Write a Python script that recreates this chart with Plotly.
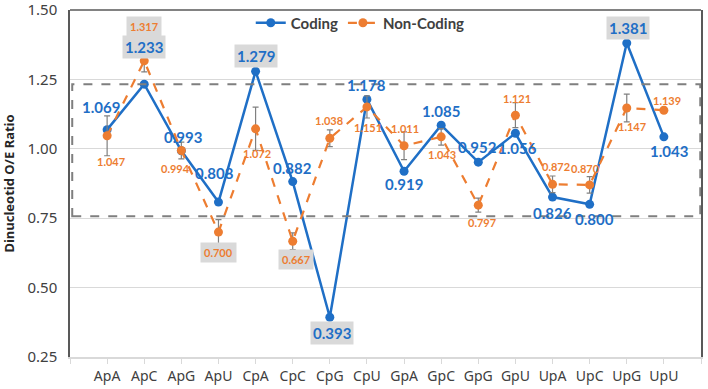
import plotly.graph_objects as go

categories = ["ApA", "ApC", "ApG", "ApU", "CpA", "CpC", "CpG", "CpU",
              "GpA", "GpC", "GpG", "GpU", "UpA", "UpC", "UpG", "UpU"]
coding = [1.069, 1.233, 0.993, 0.808, 1.279, 0.882, 0.393, 1.178,
          0.919, 1.085, 0.952, 1.056, 0.826, 0.800, 1.381, 1.043]
noncoding = [1.047, 1.317, 0.994, 0.700, 1.072, 0.667, 1.038, 1.151,
             1.011, 1.043, 0.797, 1.121, 0.872, 0.870, 1.147, 1.139]
noncoding_err = [0.072, 0.04, 0.03, 0.045, 0.078, 0.03, 0.03, 0.04,
                 0.05, 0.03, 0.025, 0.045, 0.03, 0.03, 0.05, 0.0]
y_ticks = [0.25, 0.50, 0.75, 1.00, 1.25, 1.50]

# label styling: (dx, dy in px, highlighted box)
coding_lab = [(-6, -23, False), (0, -37, True), (2, -14, False), (-4, -29, False),
              (0, -15, True), (0, -14, False), (2, 16, True), (0, -14, False),
              (0, 13, False), (0, -14, False), (-1, -15, False), (2, 15, False),
              (0, 16, False), (5, 15, False), (1, -15, True), (5, 14, False)]
noncoding_lab = [(4, 26, False), (0, -34, True), (-6, 18, False), (0, 20, True),
                 (1, 25, False), (3, 18, True), (-1, -18, False), (1, 21, False),
                 (1, -17, False), (1, 18, False), (4, 17, False), (2, -17, False),
                 (3, -18, False), (-4, -16, False), (5, 18, False), (3, -10, False)]

BLUE = "#1f6fc6"
ORANGE = "#ed7d31"
xs = list(range(len(categories)))

fig = go.Figure()
fig.add_trace(go.Scatter(
    x=xs, y=coding, name="Coding", mode="lines+markers",
    line=dict(color=BLUE, width=2.5),
    marker=dict(color=BLUE, size=9)))
fig.add_trace(go.Scatter(
    x=xs, y=noncoding, name="Non-Coding", mode="lines+markers",
    line=dict(color=ORANGE, width=2.2, dash="dash"),
    marker=dict(color=ORANGE, size=9),
    error_y=dict(type="data", array=noncoding_err, color="#808080",
                 thickness=1.2, width=3)))

annotations = []
for i, v in enumerate(coding):
    dx, dy, box = coding_lab[i]
    annotations.append(dict(
        x=xs[i], y=v, xref="x", yref="y", text=f"{v:.3f}", showarrow=False,
        xshift=dx, yshift=-dy,
        font=dict(family="Lato, Noto Sans, sans-serif", size=15, color=BLUE, weight="bold"),
        bgcolor="#d9d9d9" if box else "rgba(0,0,0,0)", borderpad=2))
for i, v in enumerate(noncoding):
    dx, dy, box = noncoding_lab[i]
    annotations.append(dict(
        x=xs[i], y=v, xref="x", yref="y", text=f"{v:.3f}", showarrow=False,
        xshift=dx, yshift=-dy,
        font=dict(family="Lato, Noto Sans, sans-serif", size=11, color=ORANGE, weight="bold"),
        bgcolor="#d9d9d9" if box else "rgba(0,0,0,0)", borderpad=3))

shapes = [
    dict(type="rect", xref="x", yref="y", x0=-0.94, x1=15.98, y0=0.757, y1=1.233,
         line=dict(color="#7f7f7f", width=2, dash="dash"), fillcolor="rgba(0,0,0,0)"),
    dict(type="line", xref="paper", yref="paper", x0=0, x1=1, y0=1, y1=1,
         line=dict(color="#595959", width=1.5)),
]

fig.update_layout(
    width=708, height=389,
    margin=dict(l=70, r=7, t=10, b=32, autoexpand=False),
    paper_bgcolor="white", plot_bgcolor="white",
    font=dict(family="Noto Sans, sans-serif", color="#404040"),
    showlegend=True,
    legend=dict(orientation="h", x=0.46, xanchor="center", y=1.01, yanchor="top",
                font=dict(family="Lato, Noto Sans, sans-serif", size=15, weight="bold", color="#404040"),
                bgcolor="rgba(0,0,0,0)", itemwidth=30, tracegroupgap=0),
    annotations=annotations, shapes=shapes,
)
fig.update_xaxes(
    range=[-1, 16], tickvals=list(range(-1, 17)),
    ticktext=[""] + categories + [""],
    showgrid=False, zeroline=False, automargin=False,
    showline=True, linecolor="#d9d9d9", linewidth=1.5,
    ticks="outside", tickcolor="#d9d9d9", ticklen=5,
    tickfont=dict(size=14, color="#404040"))
fig.update_yaxes(
    range=[0.2499, 1.5001], tickvals=y_ticks, ticktext=[f"{t:.2f}" for t in y_ticks],
    showgrid=True, gridcolor="#d9d9d9", gridwidth=1, zeroline=False, automargin=False,
    showline=True, linecolor="#595959", linewidth=1.5, mirror=True,
    ticks="", tickfont=dict(size=15, color="#404040"),
    ticklabeloverflow="allow", ticklabelstandoff=8,
    title=dict(text="<b>Dinucleotid O/E Ratio</b>", font=dict(size=13, color="#262626"), standoff=10))

fig.write_html("out.html", config={"displayModeBar": False},
               post_script="document.body.style.margin='0';document.body.style.overflow='hidden';")
